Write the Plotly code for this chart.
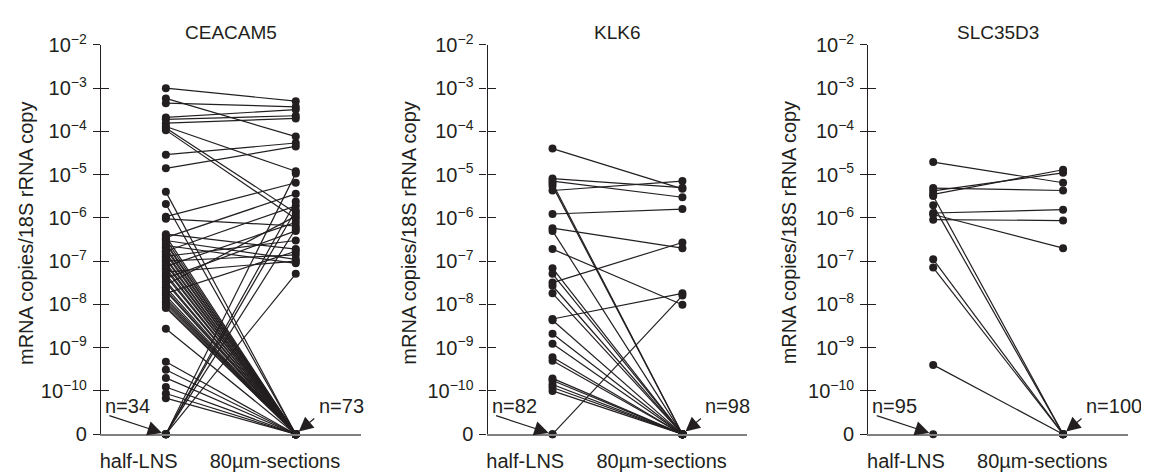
import plotly.graph_objects as go

# ---------------- data ----------------
GENES = ["CEACAM5", "KLK6", "SLC35D3"]
GROUPS = ["half-LNS", "80µm-sections"]

ceacam5_half = [1.0e-3, 5.8e-4, 4.5e-4, 2.1e-4, 1.9e-4, 1.55e-4, 1.3e-4, 1.2e-4, 1.07e-4,
                2.9e-5, 1.4e-5, 4.0e-6, 2.1e-6, 1.07e-6, 9.5e-7,
                4.2e-7, 3.8e-7, 3.5e-7, 3.2e-7, 3.0e-7, 2.7e-7, 2.5e-7, 2.3e-7, 2.1e-7, 1.9e-7,
                1.7e-7, 1.6e-7, 1.45e-7, 1.3e-7, 1.2e-7, 1.1e-7, 1.0e-7, 9.1e-8, 8.3e-8, 7.6e-8,
                6.9e-8, 6.3e-8, 5.6e-8, 5.0e-8, 4.5e-8, 4.0e-8, 3.5e-8, 3.2e-8, 2.8e-8, 2.5e-8,
                2.2e-8, 2.0e-8, 1.8e-8, 1.6e-8, 1.4e-8, 1.26e-8, 1.12e-8, 1.0e-8, 8.9e-9, 8.3e-9,
                2.75e-9, 4.7e-10, 3.1e-10, 2.0e-10, 1.23e-10, 8.7e-11, 6.8e-11,
                0, 0, 0, 0, 0, 0]
ceacam5_sect = [5.0e-4, 7.6e-5, 3.7e-4, 3.2e-4, 2.3e-4, 2.0e-4, 1.2e-5, 1.3e-6, 9.5e-7,
                5.4e-5, 4.5e-5, 0, 0, 6.5e-6, 6.5e-7,
                1.9e-7, 0, 3.6e-6, 0, 1.1e-7, 0, 0, 8.9e-8, 0, 0,
                1.9e-6, 0, 0, 3.0e-7, 0, 0, 1.4e-7, 0, 0, 7.9e-7,
                0, 0, 1.0e-7, 0, 0, 5.0e-7, 0, 0, 1.1e-6, 0,
                0, 0, 1.7e-7, 0, 0, 0, 0, 0, 0, 0,
                0, 0, 0, 0, 0, 0, 0,
                1.07e-5, 2.4e-6, 1.5e-6, 5.6e-7, 5.1e-8, 0]

klk6_half = [4.0e-5, 8.1e-6, 7.1e-6, 4.3e-6, 6.3e-6, 5.5e-6, 1.23e-6, 5.8e-7, 5.0e-7,
             1.9e-7, 6.9e-8, 5.1e-8, 3.2e-8, 2.7e-8, 1.8e-8, 4.6e-9, 4.3e-9, 2.1e-9,
             1.23e-9, 6.0e-10, 5.0e-10, 1.95e-10, 1.74e-10, 1.41e-10, 1.2e-10, 1.0e-10,
             0, 0]
klk6_sect = [4.7e-6, 5.0e-6, 3.0e-6, 7.1e-6, 0, 0, 1.6e-6, 2.0e-7, 0,
             9.8e-9, 0, 0, 2.7e-7, 0, 0, 1.8e-8, 0, 0,
             0, 0, 0, 0, 0, 0, 0, 0,
             1.6e-8, 0]

slc35d3_half = [1.95e-5, 4.9e-6, 4.2e-6, 3.5e-6, 3.2e-6, 1.95e-6, 1.3e-6, 1.2e-6, 9.1e-7,
                1.1e-7, 7.1e-8, 4.0e-10, 0]
slc35d3_sect = [6.5e-6, 4.3e-6, 1.1e-5, 1.3e-5, 0, 0, 1.55e-6, 2.0e-7, 8.7e-7,
                0, 0, 0, 0]

zeros_half = [34, 82, 95]
zeros_sect = [73, 98, 100]

tick_exponents = [-10, -9, -8, -7, -6, -5, -4, -3, -2]

# ---------------- layout helpers ----------------
W, H = 1149, 476
# where the page actually shows the figure inside the 1149x476 window
OFF_X, OFF_Y = 8, 20
DISP_W, DISP_H = 1149, 453
FONT = "Liberation Sans, Arial, sans-serif"
INK = "#231f20"
ZERO_AT = 1e-11          # where "0" is drawn on the log axis
panel_px = [(100, 360), (487, 747), (868, 1128)]   # window px: y-axis .. end of baseline
ytitle_shift = [-75, -79, -79]
y_top_px, y_bot_px = 43, 434                       # window px: 10^-2 .. 0


def fx(px):
    return (px - OFF_X) / DISP_W


def fy(py):
    return 1 - (py - OFF_Y) / DISP_H


y_domain = [fy(y_bot_px), fy(y_top_px)]

tickvals = [ZERO_AT] + [10.0 ** e for e in tick_exponents]
ticktext = ["0"] + ["10<sup>\u2212%d</sup>" % (-e) for e in tick_exponents]

series = [(ceacam5_half, ceacam5_sect), (klk6_half, klk6_sect), (slc35d3_half, slc35d3_sect)]


def pos(v):
    return ZERO_AT if v == 0 else v


fig = go.Figure()
layout = dict(
    width=W, height=H,
    margin=dict(l=0, r=0, t=0, b=0),
    paper_bgcolor="white", plot_bgcolor="white",
    showlegend=False,
    font=dict(family=FONT, size=19, color=INK),
)
annotations = []

for i, (gene, (half, sect)) in enumerate(zip(GENES, series)):
    n = i + 1
    xa = "x" if n == 1 else "x%d" % n
    ya = "y" if n == 1 else "y%d" % n
    yov = "y%d" % (n + 3)
    xs, ys = [], []
    for h, s in zip(half, sect):
        if h == 0 and s == 0:
            xs += [1, None, 2, None]
            ys += [ZERO_AT, None, ZERO_AT, None]
        else:
            xs += [1, 2, None]
            ys += [pos(h), pos(s), None]
    fig.add_trace(go.Scatter(
        x=xs, y=ys, xaxis=xa, yaxis=ya, mode="lines+markers",
        line=dict(color=INK, width=1.2),
        marker=dict(color=INK, size=8),
        cliponaxis=False, connectgaps=False, hoverinfo="skip"))
    fig.add_trace(go.Scatter(x=[None], y=[None], xaxis=xa, yaxis=yov,
                             hoverinfo="skip", showlegend=False))

    x0, x1 = panel_px[i]
    layout["xaxis" if n == 1 else "xaxis%d" % n] = dict(
        domain=[fx(x0), fx(x1)], range=[0.5, 2.5], anchor=ya,
        tickmode="array", tickvals=[0.79, 1.84], ticktext=GROUPS,
        ticks="", showline=True, linecolor="#808080", linewidth=2,
        showgrid=False, zeroline=False, tickfont=dict(size=20),
        ticklabelstandoff=8)
    common_y = dict(type="log", range=[-11, -2], domain=y_domain, anchor=xa,
                    tickmode="array", tickvals=tickvals,
                    showgrid=False, zeroline=False)
    layout["yaxis" if n == 1 else "yaxis%d" % n] = dict(
        common_y, ticktext=ticktext, ticks="outside", ticklen=7, tickwidth=1.3,
        tickcolor=INK, showline=True, linecolor=INK, linewidth=1.3,
        tickfont=dict(size=20), ticklabelstandoff=2)
    layout["yaxis%d" % (n + 3)] = dict(
        common_y, overlaying=ya, side="left", ticks="inside", ticklen=8,
        tickwidth=1.3, tickcolor=INK, showticklabels=False, showline=False)

    annotations.append(dict(text=gene, xref="%s domain" % xa, x=0.5, yref="paper",
                            y=1, yshift=2, showarrow=False, xanchor="center",
                            yanchor="top", font=dict(size=19)))
    annotations.append(dict(text="mRNA copies/18S rRNA copy", xref="%s domain" % xa, x=0,
                            xshift=ytitle_shift[i], yref="paper", y=fy(232), textangle=-90,
                            showarrow=False, xanchor="center", yanchor="middle",
                            font=dict(size=20)))
    annotations.append(dict(text="", x=1, y=-11, xref=xa, yref=ya, showarrow=True,
                            ax=-58, ay=-19, arrowhead=2, arrowsize=2.4, arrowwidth=1.2,
                            arrowcolor=INK, standoff=4))
    annotations.append(dict(text="", x=2, y=-11, xref=xa, yref=ya, showarrow=True,
                            ax=20, ay=-17, arrowhead=2, arrowsize=2.4, arrowwidth=1.2,
                            arrowcolor=INK, standoff=4))
    annotations.append(dict(text="n=%d" % zeros_half[i], x=1, y=-11, xref=xa, yref=ya,
                            showarrow=False, xanchor="right", yanchor="middle",
                            xshift=-14, yshift=28, font=dict(size=20)))
    annotations.append(dict(text="n=%d" % zeros_sect[i], x=2, y=-11, xref=xa, yref=ya,
                            showarrow=False, xanchor="left", yanchor="middle",
                            xshift=21, yshift=28, font=dict(size=20)))

layout["annotations"] = annotations
fig.update_layout(**layout)
fig.write_html("out.html")
